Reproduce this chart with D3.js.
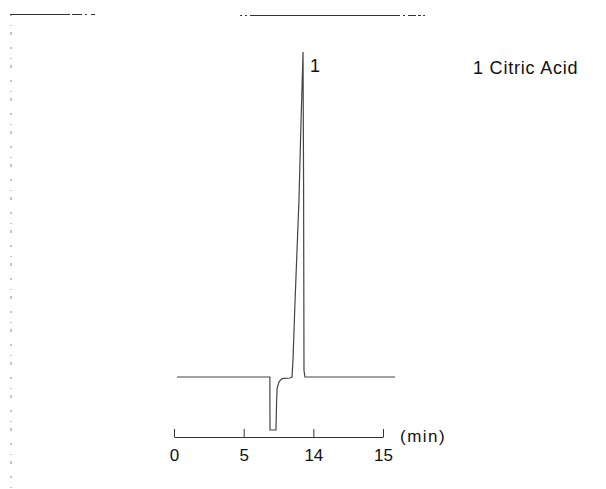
<!DOCTYPE html>
<html>
<head>
<meta charset="utf-8">
<script src="https://d3js.org/d3.v7.min.js"></script>
<style>
body { margin: 0; background: #fff; }
text { font-family: "Liberation Sans", Arial, Helvetica, sans-serif; fill: #111; }
</style>
</head>
<body>
<svg id="main_vis" width="606" height="489"></svg>
<script>
// retention time (min) and detector signal (relative)
var times   = [0.22, 6.88, 6.89, 7.32, 7.36, 7.40, 7.54, 7.75, 8.33, 8.47, 8.54, 8.69, 8.97, 9.12, 9.26, 9.30, 9.33, 9.40, 15.86];
var signals = [0,    0,   -16.3, -16.3, -8,   -3.5, -1.5, -0.5, -0.3, 0,    5.2,  23.7, 54.5, 79,   100,  60,   2,    0,    0];

// axis ticks (the printed labels under each tick)
var tickValues = [0, 5, 10, 15];
var tickLabels = ["0", "5", "14", "15"];

var peakNames = ["1"];
var peakTimes = [9.26];
var peakSignals = [100];
var legendText = ["1 Citric Acid"];

var svg = d3.select("#main_vis");

var x = d3.scaleLinear().domain([0, 15]).range([174, 383]);
var y = d3.scaleLinear().domain([0, 100]).range([377, 52]);

// page frame (faint, broken scan lines)
svg.append("line").attr("x1", 11).attr("x2", 11).attr("y1", 14).attr("y2", 489)
  .attr("stroke", "#888").attr("stroke-width", 1).attr("stroke-dasharray", "2,9,1,6,3,12");
svg.append("line").attr("x1", 10).attr("x2", 95).attr("y1", 14.5).attr("y2", 14.5)
  .attr("stroke", "#333").attr("stroke-width", 1).attr("stroke-dasharray", "60,2,10,3,2,4,8");
svg.append("line").attr("x1", 240).attr("x2", 425).attr("y1", 15.5).attr("y2", 15.5)
  .attr("stroke", "#333").attr("stroke-width", 1).attr("stroke-dasharray", "2,3,2,3,150,3,2,3,8");

// time axis
var axisY = 437;
var axis = d3.axisTop(x).tickValues(tickValues)
  .tickFormat(function(d, i) { return tickLabels[i]; })
  .tickSize(8).tickSizeOuter(0);
var g = svg.append("g").attr("transform", "translate(0," + axisY + ")").call(axis);
g.select(".domain").attr("stroke", "#333");
g.selectAll(".tick line").attr("stroke", "#333");
g.selectAll(".tick text").attr("y", 24).attr("dy", 0)
  .attr("font-size", "17px").attr("font-family", "Liberation Sans, Arial, sans-serif").attr("fill", "#111");
svg.append("text").attr("x", 400).attr("y", axisY + 5).attr("font-size", "17px")
  .attr("letter-spacing", "1.5px").text("(min)");

// chromatogram trace
var pts = times.map(function(t, i) { return [t, signals[i]]; });
svg.append("path").datum(pts)
  .attr("fill", "none").attr("stroke", "#444").attr("stroke-width", 1.2)
  .attr("d", d3.line().x(function(d) { return x(d[0]); }).y(function(d) { return y(d[1]); }));

// peak label
svg.selectAll(".peaklab").data(peakNames).enter().append("text")
  .attr("x", function(d, i) { return x(peakTimes[i]) + 7; })
  .attr("y", function(d, i) { return y(peakSignals[i]) + 20; })
  .attr("font-size", "18px").text(function(d) { return d; });

// legend
svg.selectAll(".legend").data(legendText).enter().append("text")
  .attr("x", 473).attr("y", function(d, i) { return 74 + i * 20; })
  .attr("font-size", "18px").attr("letter-spacing", "0.8px").text(function(d) { return d; });
</script>
</body>
</html>
